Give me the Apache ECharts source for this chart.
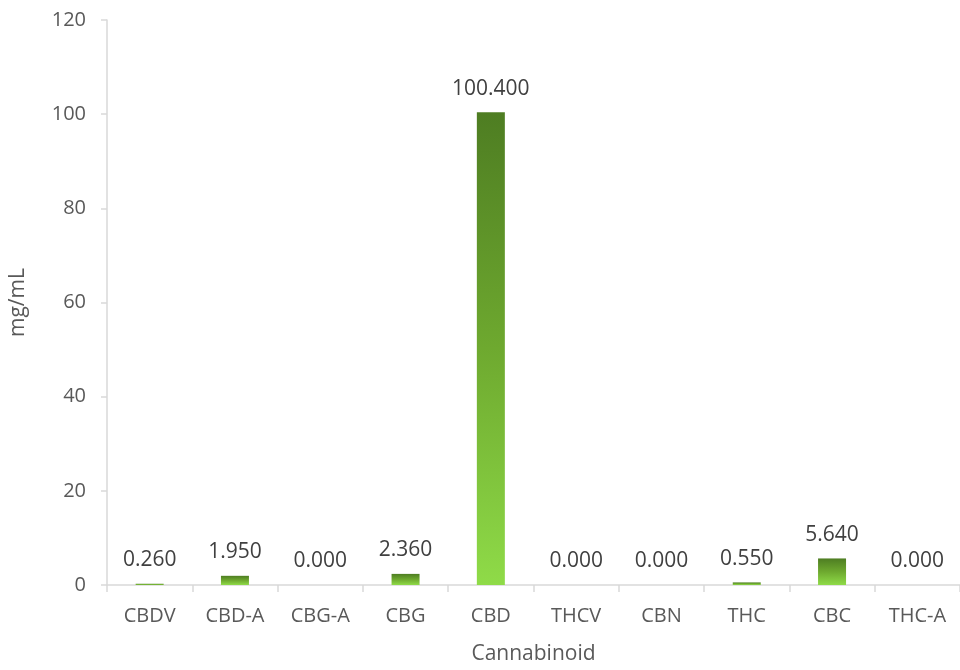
<!DOCTYPE html>
<html>
<head>
<meta charset="utf-8">
<script src="https://cdn.jsdelivr.net/npm/echarts@6/dist/echarts.min.js"></script>
<style>html,body{margin:0;padding:0;background:#fff}#c{width:960px;height:670px}</style>
</head>
<body>
<div id="c"></div>
<script>
const categories = ['CBDV','CBD-A','CBG-A','CBG','CBD','THCV','CBN','THC','CBC','THC-A'];
const values = [0.26, 1.95, 0, 2.36, 100.4, 0, 0, 0.55, 5.64, 0];
const yTicks = [0, 20, 40, 60, 80, 100, 120];

const chart = echarts.init(document.getElementById('c'));
const font = '"Open Sans", "Noto Sans", sans-serif';
chart.setOption({
  animation: false,
  grid: { left: 106, top: 20, width: 858, bottom: 85 },
  xAxis: {
    type: 'category',
    data: categories,
    name: 'Cannabinoid',
    nameLocation: 'middle',
    nameGap: 59,
    nameTextStyle: { color: '#595959', fontSize: 21, fontFamily: font },
    axisLine: { lineStyle: { color: '#d9d9d9', width: 1.5 } },
    axisTick: { show: true, alignWithLabel: false, length: 7, lineStyle: { color: '#d9d9d9', width: 1.5 } },
    axisLabel: { color: '#595959', fontSize: 20, fontFamily: font, margin: 21 }
  },
  yAxis: {
    type: 'value',
    min: yTicks[0],
    max: yTicks[yTicks.length - 1],
    interval: 20,
    name: 'mg/mL',
    nameLocation: 'middle',
    nameGap: 78,
    nameRotate: 90,
    nameTextStyle: { color: '#595959', fontSize: 21, fontFamily: font },
    axisLine: { show: true, lineStyle: { color: '#d9d9d9', width: 1.5 } },
    axisTick: { show: true, length: 6, lineStyle: { color: '#d9d9d9', width: 1.5 } },
    splitLine: { show: false },
    axisLabel: { color: '#595959', fontSize: 20, fontFamily: font, margin: 21 }
  },
  series: [{
    type: 'bar',
    data: values,
    barWidth: 28,
    itemStyle: {
      color: new echarts.graphic.LinearGradient(0, 0, 0, 1, [
        { offset: 0, color: '#4e7d22' },
        { offset: 0.5, color: '#6ea92f' },
        { offset: 1, color: '#8fdb48' }
      ])
    },
    label: {
      show: true,
      position: 'top',
      distance: 13,
      color: '#404040',
      fontSize: 21,
      fontFamily: font,
      formatter: p => p.value.toFixed(3)
    }
  }]
});
</script>
</body>
</html>
